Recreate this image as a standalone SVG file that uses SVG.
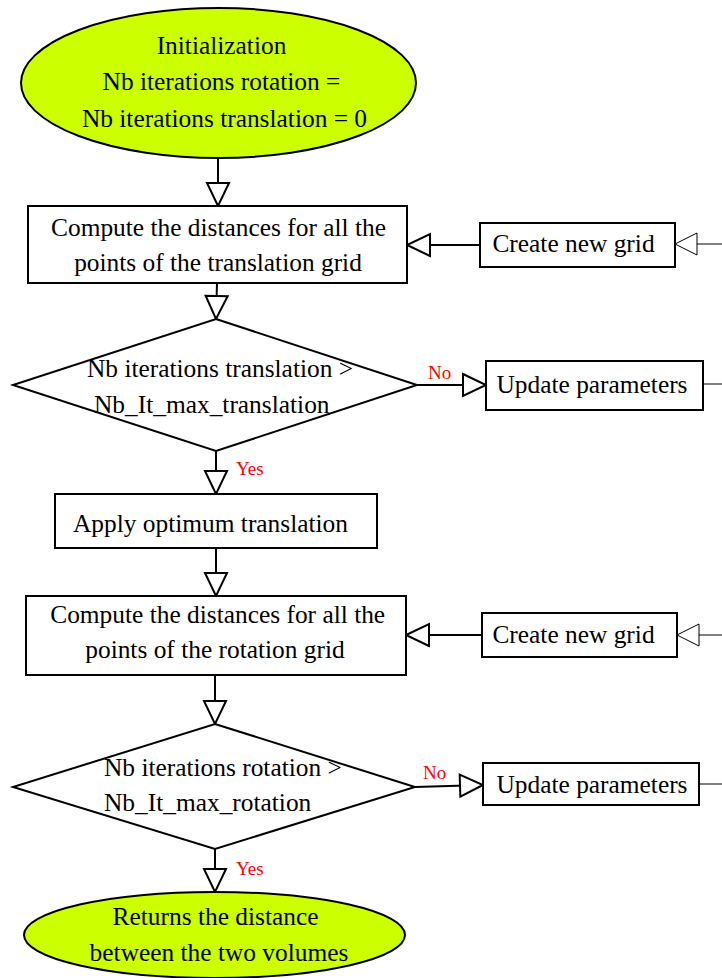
<svg xmlns="http://www.w3.org/2000/svg" width="722" height="978" viewBox="0 0 722 978">
<style>
  .shape { fill: #ffffff; stroke: #000000; stroke-width: 2; }
  .term { fill: #ccff00; stroke: #000000; stroke-width: 2; }
  .txt { font-family: "Liberation Serif", "Times New Roman", serif; font-size: 25.4px; fill: #000000; }
  .lbl { font-family: "Liberation Serif", "Times New Roman", serif; font-size: 19px; fill: #ff0000; }
  .edge { fill: none; stroke: #000000; stroke-width: 2; }
  .thin { fill: none; stroke: #000000; stroke-width: 1; }
  .mid { text-anchor: middle; }
</style>
<defs>
  <marker id="arr" viewBox="0 0 26 26" refX="24" refY="12" markerWidth="26" markerHeight="26" markerUnits="userSpaceOnUse" orient="auto" overflow="visible">
    <path d="M1,1 L24,12 L1,23 Z" fill="#ffffff" stroke="#000000" stroke-width="2"/>
  </marker>
  <marker id="arrThin" viewBox="0 0 26 26" refX="23" refY="11" markerWidth="26" markerHeight="26" markerUnits="userSpaceOnUse" orient="auto" overflow="visible">
    <path d="M1,0 L23,11 L1,22 Z" fill="#ffffff" stroke="#000000" stroke-width="1"/>
  </marker>
</defs>
<rect width="722" height="978" fill="#ffffff"/>

<g id="connectors">
  <line class="edge" x1="218" y1="158" x2="218" y2="206" marker-end="url(#arr)"/>
  <line class="edge" x1="217" y1="283" x2="216" y2="319" marker-end="url(#arr)"/>
  <line class="edge" x1="417" y1="385" x2="486" y2="385" marker-end="url(#arr)"/>
  <line class="thin" x1="703" y1="384" x2="722" y2="384"/>
  <line class="thin" x1="722" y1="244" x2="675" y2="244" marker-end="url(#arrThin)"/>
  <line class="edge" x1="480" y1="245" x2="407" y2="245" marker-end="url(#arr)"/>
  <line class="edge" x1="216" y1="451" x2="216" y2="494" marker-end="url(#arr)"/>
  <line class="edge" x1="216" y1="548" x2="216" y2="596" marker-end="url(#arr)"/>
  <line class="thin" x1="722" y1="635" x2="677" y2="635" marker-end="url(#arrThin)"/>
  <line class="edge" x1="482" y1="635" x2="406" y2="635" marker-end="url(#arr)"/>
  <line class="edge" x1="215" y1="675" x2="215" y2="724" marker-end="url(#arr)"/>
  <line class="edge" x1="415" y1="787" x2="483" y2="785" marker-end="url(#arr)"/>
  <line class="thin" x1="699" y1="784" x2="722" y2="784"/>
  <line class="edge" x1="215" y1="849" x2="215" y2="892" marker-end="url(#arr)"/>
  <text class="lbl" x="428" y="379">No</text>
  <text class="lbl" x="236" y="475">Yes</text>
  <text class="lbl" x="423" y="779">No</text>
  <text class="lbl" x="236" y="875">Yes</text>
</g>

<g id="init">
  <ellipse class="term" cx="218.5" cy="83" rx="197.5" ry="75"/>
  <text class="txt mid" x="221.5" y="54">Initialization</text>
  <text class="txt mid" x="221.5" y="90">Nb iterations rotation =</text>
  <text class="txt mid" x="224.5" y="127">Nb iterations translation = 0</text>
</g>

<g id="compute_translation">
  <rect class="shape" x="28" y="206" width="379" height="77"/>
  <text class="txt mid" x="218.5" y="236">Compute the distances for all the</text>
  <text class="txt mid" x="218" y="271">points of the translation grid</text>
</g>

<g id="create_grid_1">
  <rect class="shape" x="480" y="223" width="195" height="44"/>
  <text class="txt mid" x="573.5" y="252">Create new grid</text>
</g>

<g id="test_translation">
  <polygon class="shape" points="216,319 417,385 216,451 13,385"/>
  <text class="txt" x="87" y="377">Nb iterations translation &gt;</text>
  <text class="txt" x="94" y="413">Nb_It_max_translation</text>
</g>

<g id="update_1">
  <rect class="shape" x="486" y="361" width="217" height="49"/>
  <text class="txt mid" x="592" y="393">Update parameters</text>
</g>

<g id="apply_translation">
  <rect class="shape" x="55" y="494" width="322" height="54"/>
  <text class="txt mid" x="210.5" y="532">Apply optimum translation</text>
</g>

<g id="compute_rotation">
  <rect class="shape" x="26" y="596" width="380" height="79"/>
  <text class="txt mid" x="217.7" y="623">Compute the distances for all the</text>
  <text class="txt mid" x="215" y="658">points of the rotation grid</text>
</g>

<g id="create_grid_2">
  <rect class="shape" x="482" y="613" width="195" height="44"/>
  <text class="txt mid" x="573.5" y="643">Create new grid</text>
</g>

<g id="test_rotation">
  <polygon class="shape" points="215,724 415,787 215,849 13,787"/>
  <text class="txt" x="104" y="776">Nb iterations rotation &gt;</text>
  <text class="txt" x="104" y="811">Nb_It_max_rotation</text>
</g>

<g id="update_2">
  <rect class="shape" x="483" y="763" width="216" height="42"/>
  <text class="txt mid" x="592" y="793">Update parameters</text>
</g>

<g id="result">
  <ellipse class="term" cx="214.5" cy="935" rx="190.5" ry="43"/>
  <text class="txt mid" x="215.5" y="925">Returns the distance</text>
  <text class="txt mid" x="219" y="961">between the two volumes</text>
</g>
</svg>
